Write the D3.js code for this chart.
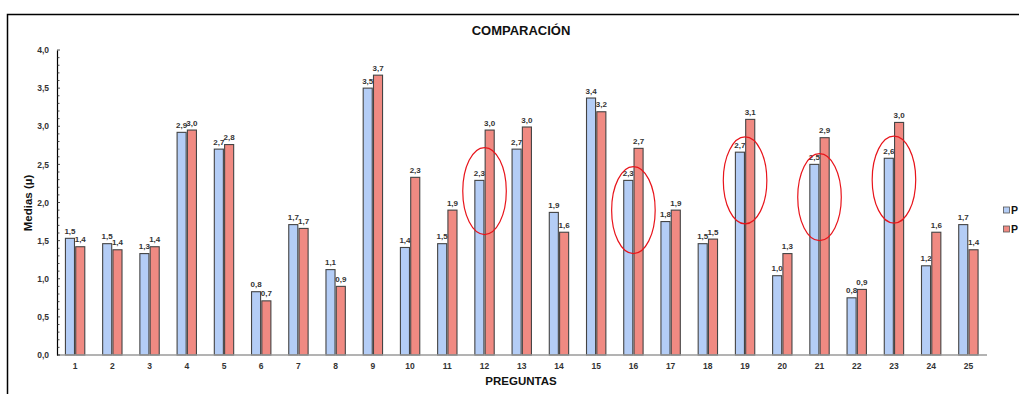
<!DOCTYPE html>
<html>
<head>
<meta charset="utf-8">
<script src="https://cdn.jsdelivr.net/npm/d3@7"></script>
<style>
  html, body { margin: 0; padding: 0; background: #fff; overflow: hidden; }
  svg { display: block; font-family: "Liberation Sans", Arial, sans-serif; }
</style>
</head>
<body>
<script>
// ---- data ----
const categories = d3.range(1, 26).map(String);
const seriesNames = ["Pretest", "Postest"];
const legendLabels = ["P", "P"]; // the reference only shows the first letter (cut by the frame)
const seriesPre  = [1.53, 1.46, 1.33, 2.92, 2.70, 0.83, 1.71, 1.12, 3.50, 1.41, 1.46, 2.29, 2.70, 1.87, 3.37, 2.29, 1.75, 1.46, 2.66, 1.04, 2.50, 0.75, 2.58, 1.17, 1.71];
const seriesPost = [1.42, 1.38, 1.42, 2.95, 2.76, 0.71, 1.66, 0.90, 3.67, 2.33, 1.90, 2.95, 2.99, 1.61, 3.19, 2.71, 1.90, 1.52, 3.09, 1.33, 2.85, 0.86, 3.05, 1.61, 1.38];
const yTicks = [0, 0.5, 1, 1.5, 2, 2.5, 3, 3.5, 4];
const highlighted = ["12", "16", "19", "21", "23"];
const highlightCenters = [2.15, 1.90, 2.29, 2.07, 2.30];
const highlightHalfHeight = 0.57;

const colors = ["#b4cdf6", "#f08a82"];
const W = 1019, H = 394;
const fmt = v => d3.format(".1f")(v).replace(".", ",");

const svg = d3.select("body").append("svg").attr("width", W).attr("height", H);

// outer frame
svg.append("rect").attr("x", 7.5).attr("y", 14.5).attr("width", W + 20).attr("height", H + 20)
  .attr("fill", "none").attr("stroke", "#000").attr("stroke-width", 1.5);

const x0 = d3.scaleBand().domain(categories).range([56.5, 987]).paddingInner(0.48).paddingOuter(0.24);
const x1 = d3.scaleBand().domain(seriesNames).range([0, x0.bandwidth()]).paddingInner(0.12);
const y = d3.scaleLinear().domain([0, 4]).range([355, 50]);

// title
svg.append("text").attr("x", 521).attr("y", 35).attr("text-anchor", "middle")
  .attr("font-weight", "bold").attr("font-size", 13).attr("fill", "#111").text("COMPARACIÓN");

// bars
const rows = categories.map((c, i) => ({ c, vals: [seriesPre[i], seriesPost[i]] }));
const g = svg.append("g");
rows.forEach(r => {
  r.vals.forEach((v, k) => {
    const bx = x0(r.c) + x1(seriesNames[k]);
    g.append("rect").attr("x", bx).attr("y", y(v)).attr("width", x1.bandwidth()).attr("height", y(0) - y(v))
      .attr("fill", colors[k]).attr("stroke", "#444").attr("stroke-width", 1.1);
    g.append("text").attr("x", bx + x1.bandwidth() / 2).attr("y", y(v) - 4.5).attr("text-anchor", "middle")
      .attr("font-size", 8).attr("font-weight", "bold").attr("fill", "#333").text(fmt(v));
  });
});

// baseline
svg.append("line").attr("x1", 57).attr("x2", 987).attr("y1", y(0)).attr("y2", y(0))
  .attr("stroke", "#9a9a9a").attr("stroke-width", 1.5);

// y axis
const yAxis = d3.axisLeft(y).tickValues(yTicks).tickSize(0).tickPadding(8).tickFormat(fmt);
const ya = svg.append("g").attr("transform", "translate(57,0)").call(yAxis);
ya.select(".domain").attr("stroke", "#000").attr("stroke-width", 1.2);
ya.selectAll("text").attr("font-size", 8.5).attr("font-weight", "bold").attr("fill", "#333")
  .attr("font-family", "Liberation Sans, Arial, sans-serif");
// minor inward ticks
const minor = d3.range(0, 41).map(i => i / 10);
svg.append("g").selectAll("line").data(minor).join("line")
  .attr("x1", 57).attr("x2", d => (Math.round(d * 10) % 5 === 0 ? 60 : 59.5))
  .attr("y1", d => y(d)).attr("y2", d => y(d)).attr("stroke", "#222").attr("stroke-width", 0.8);

// x axis labels
const xAxis = d3.axisBottom(x0).tickSize(0).tickPadding(8);
const xa = svg.append("g").attr("transform", `translate(0,${y(0)})`).call(xAxis);
xa.select(".domain").remove();
xa.selectAll("text").attr("font-size", 8.5).attr("font-weight", "bold").attr("fill", "#333")
  .attr("font-family", "Liberation Sans, Arial, sans-serif");

// axis titles
svg.append("text").attr("x", 521).attr("y", 385).attr("text-anchor", "middle")
  .attr("font-weight", "bold").attr("font-size", 11.5).attr("fill", "#111").text("PREGUNTAS");
svg.append("text").attr("transform", "translate(32,203) rotate(-90)").attr("text-anchor", "middle")
  .attr("font-weight", "bold").attr("font-size", 11.5).attr("fill", "#111").text("Medias (µ)");

// highlight ellipses
svg.append("g").selectAll("ellipse").data(highlighted).join("ellipse")
  .attr("cx", d => x0(d) + x0.bandwidth() / 2)
  .attr("cy", (d, i) => y(highlightCenters[i]))
  .attr("rx", x0.step() * 0.585)
  .attr("ry", (d, i) => y(highlightCenters[i] - highlightHalfHeight) - y(highlightCenters[i]))
  .attr("fill", "none").attr("stroke", "#e8141b").attr("stroke-width", 1.2);

// legend
const lg = svg.append("g");
seriesNames.forEach((s, k) => {
  const ly = 210 + k * 19;
  lg.append("rect").attr("x", 1003.5).attr("y", ly - 3).attr("width", 6).attr("height", 6)
    .attr("fill", colors[k]).attr("stroke", "#555").attr("stroke-width", 0.8);
  lg.append("text").attr("x", 1011).attr("y", ly + 4).attr("font-size", 10.5).attr("font-weight", "bold")
    .attr("fill", "#111").text(legendLabels[k]);
});
</script>
</body>
</html>
